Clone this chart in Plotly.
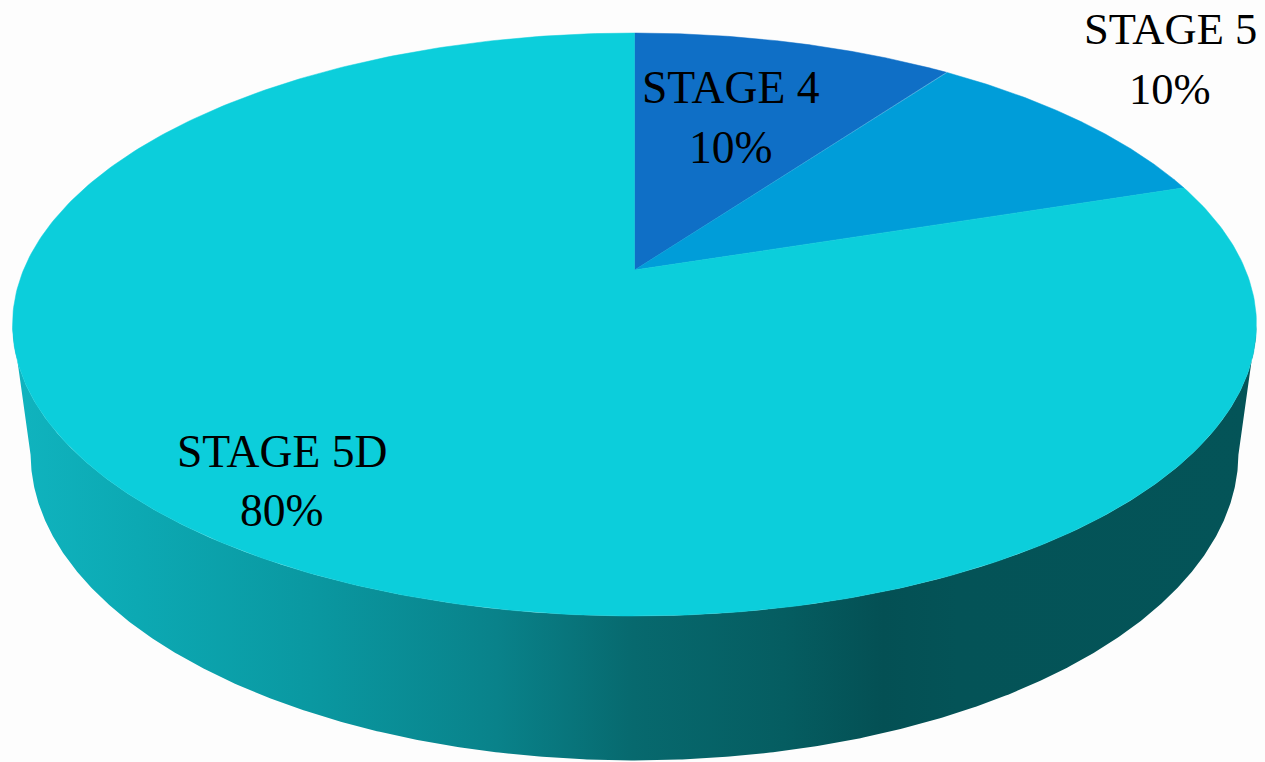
import numpy as np
import plotly.graph_objects as go

# Pie data
categories = ["STAGE 4", "STAGE 5", "STAGE 5D"]
shares = [10, 10, 80]
slice_colors = ["#0F6FC6", "#009DD9", "#0CCEDB"]

# Wall shading, from left to right across the disc
wall_stops = [0.0, 0.1, 0.24, 0.39, 0.5, 0.62, 0.70, 0.76, 1.0]
wall_colors = ["#10B4BF", "#0CA9B3", "#0A98A1", "#09828A", "#07696E",
               "#055D61", "#045054", "#045357", "#045458"]

# Label anchors (name line and percentage line)
label_x = [731, 1170, 282]
name_y = [87, 29, 451]
value_y = [147, 89, 510]
label_size = [45.6, 44.5, 45.6]

W, H = 1265, 762

# Perspective view of the disc
CX, CY = 634.5, 325
A, B, C, K = 611, 291.6, 55, 0.187
# Lower rim of the wall: offset and scale relative to the top face
BASE_DROP, BASE_SX, BASE_SY = 129, 0.971, 1.053


def project(theta, sx=1.0, sy=1.0, drop=0.0):
    """Map an angle clockwise from 12 o'clock onto the tilted disc."""
    d = 1 + K * np.cos(theta)
    x = CX + sx * A * np.sin(theta) / d
    y = CY + drop - sy * (B * np.cos(theta) + C) / d
    return x, y


def lower_half(sx=1.0, sy=1.0, drop=0.0):
    """Rim points below the widest line of the ellipse, right to left."""
    th = np.linspace(0, 2 * np.pi, 1441)
    x, y = project(th, sx, sy, drop)
    keep = y >= CY + drop
    return x[keep], y[keep]


fig = go.Figure()

# Side wall with its horizontal shading
tx, ty = lower_half()
bx, by = lower_half(BASE_SX, BASE_SY, BASE_DROP)
fig.add_trace(go.Scatter(
    x=np.concatenate([tx, bx[::-1]]),
    y=np.concatenate([ty, by[::-1]]),
    mode="lines", line=dict(width=0), fill="toself",
    fillgradient=dict(
        type="horizontal",
        colorscale=list(zip(wall_stops, wall_colors)),
        start=12, stop=1256,
    ),
    hoverinfo="skip", showlegend=False,
))

# Top face: one wedge per share, clockwise from 12 o'clock
edges = np.cumsum([0] + shares) / sum(shares) * 2 * np.pi
ax, ay = CX, CY - C
for i, cat in enumerate(categories):
    th = np.linspace(edges[i], edges[i + 1], 400)
    x, y = project(th)
    fig.add_trace(go.Scatter(
        x=np.concatenate([[ax], x, [ax]]),
        y=np.concatenate([[ay], y, [ay]]),
        mode="lines", line=dict(width=0.5, color=slice_colors[i]),
        fill="toself", fillcolor=slice_colors[i],
        name=cat, hoverinfo="skip", showlegend=False,
    ))

# Labels
font = "Liberation Serif"
for cat, val, lx, ny, vy, sz in zip(categories, shares, label_x, name_y, value_y, label_size):
    fig.add_annotation(x=lx, y=ny, text=cat, showarrow=False, xanchor="center", yanchor="middle",
                       font=dict(family=font, size=sz, color="#000000"))
    fig.add_annotation(x=lx, y=vy, text=f"{val}%", showarrow=False, xanchor="center", yanchor="middle",
                       font=dict(family=font, size=sz, color="#000000"))

fig.update_layout(
    width=W, height=H,
    margin=dict(l=0, r=0, t=0, b=0),
    paper_bgcolor="#FDFDFD", plot_bgcolor="#FDFDFD",
    xaxis=dict(range=[0, W], visible=False, fixedrange=True),
    yaxis=dict(range=[H, 0], visible=False, fixedrange=True),
)

fig.write_html("out.html", config={"displayModeBar": False})
